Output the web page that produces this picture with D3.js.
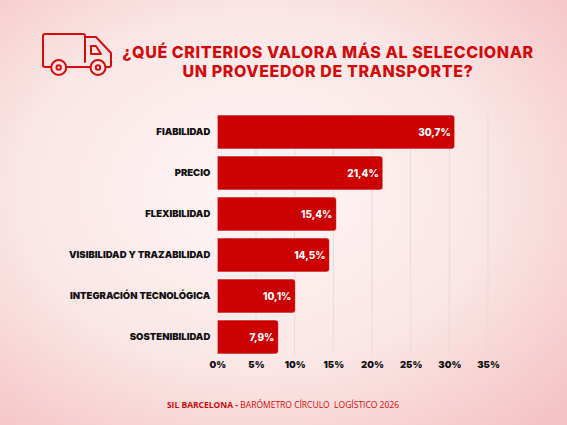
<!DOCTYPE html>
<html>
<head>
<meta charset="utf-8">
<script src="https://cdn.jsdelivr.net/npm/d3@7"></script>
<style>
  html, body { margin: 0; padding: 0; }
  body { width: 567px; height: 425px; overflow: hidden; }
  svg { display: block; }
</style>
</head>
<body>
<div id="chart"></div>
<script>
// Data
var criterios = ["FIABILIDAD", "PRECIO", "FLEXIBILIDAD", "VISIBILIDAD Y TRAZABILIDAD", "INTEGRACIÓN TECNOLÓGICA", "SOSTENIBILIDAD"];
var porcentajes = [30.7, 21.4, 15.4, 14.5, 10.1, 7.9];
var ticks = [0, 5, 10, 15, 20, 25, 30, 35];
var tituloLineas = ["¿QUÉ CRITERIOS VALORA MÁS AL SELECCIONAR", "UN PROVEEDOR DE TRANSPORTE?"];

var svgWidth = 567;
var svgHeight = 425;

var margin = { top: 111.5, right: 79, bottom: 67.5, left: 217.3 };
var width = svgWidth - margin.left - margin.right;
var height = svgHeight - margin.top - margin.bottom;

var red = "#cc0000";
var esLocale = d3.formatLocale({ decimal: ",", thousands: ".", grouping: [3], currency: ["", "€"] });
var fmt = esLocale.format(".1f");

var svg = d3.select("#chart")
  .append("svg")
  .attr("width", svgWidth)
  .attr("height", svgHeight);

// background
var defs = svg.append("defs");
var grad = defs.append("radialGradient")
  .attr("id", "bg")
  .attr("cx", "45%").attr("cy", "45%").attr("r", "75%");
grad.append("stop").attr("offset", "0%").attr("stop-color", "#fdf6f6");
grad.append("stop").attr("offset", "55%").attr("stop-color", "#fbe6e6");
grad.append("stop").attr("offset", "100%").attr("stop-color", "#f4c3c3");

svg.append("rect")
  .attr("width", svgWidth)
  .attr("height", svgHeight)
  .attr("fill", "url(#bg)");

// truck icon
var truck = svg.append("g")
  .attr("fill", "none")
  .attr("stroke", "#d40d0d")
  .attr("stroke-width", 2)
  .attr("stroke-linejoin", "round")
  .attr("stroke-linecap", "round");

truck.append("path")
  .attr("d", "M51,67 H45 Q43,67 43,65 V36 Q43,34 45,34 H83 Q85,34 85,36 V62");
truck.append("path")
  .attr("d", "M66.5,67 H90.5");
truck.append("path")
  .attr("d", "M85,37 H96 L111,53 V65 Q111,67 109,67 H105.5");
truck.append("path")
  .attr("d", "M91,46 H96 L101,54 H91 Z");
truck.append("circle").attr("cx", 58.7).attr("cy", 67.5).attr("r", 7.5);
truck.append("circle").attr("cx", 58.7).attr("cy", 67.5).attr("r", 2.2);
truck.append("circle").attr("cx", 98).attr("cy", 67.5).attr("r", 7.5);
truck.append("circle").attr("cx", 98).attr("cy", 67.5).attr("r", 2.2);

// title
svg.append("g")
  .selectAll("text")
  .data(tituloLineas)
  .enter()
  .append("text")
  .attr("x", 328)
  .attr("y", (d, i) => 57.8 + i * 19.6)
  .attr("text-anchor", "middle")
  .attr("font-family", "Inter, 'Open Sans', sans-serif")
  .attr("font-weight", 800)
  .attr("font-size", "16px")
  .attr("letter-spacing", "0.6px")
  .attr("fill", "#d10a0a")
  .text(d => d);

var chartGroup = svg.append("g")
  .attr("transform", `translate(${margin.left}, ${margin.top})`);

var xScale = d3.scaleLinear()
  .domain([0, 35])
  .range([0, width]);

var yScale = d3.scaleBand()
  .domain(criterios)
  .range([0, height])
  .paddingInner(0.17)
  .paddingOuter(0.085);

// gridlines
chartGroup.append("g")
  .selectAll("line")
  .data(ticks.slice(1))
  .enter()
  .append("line")
  .attr("x1", d => xScale(d))
  .attr("x2", d => xScale(d))
  .attr("y1", yScale(criterios[0]))
  .attr("y2", yScale(criterios[criterios.length - 1]) + yScale.bandwidth())
  .attr("stroke", "#ead9d9")
  .attr("stroke-width", 1);

// bars with rounded right end
var r = 3;
chartGroup.append("g")
  .selectAll("path")
  .data(porcentajes)
  .enter()
  .append("path")
  .attr("d", (d, i) => {
    var y0 = yScale(criterios[i]);
    var h = yScale.bandwidth();
    var w = xScale(d);
    return `M0,${y0} H${w - r} Q${w},${y0} ${w},${y0 + r} V${y0 + h - r} Q${w},${y0 + h} ${w - r},${y0 + h} H0 Z`;
  })
  .attr("fill", red)
  .attr("stroke", "#ffffff")
  .attr("stroke-opacity", 0.7)
  .attr("stroke-width", 0.8);

// value labels
chartGroup.append("g")
  .selectAll("text")
  .data(porcentajes)
  .enter()
  .append("text")
  .attr("x", d => xScale(d) - 4)
  .attr("y", (d, i) => yScale(criterios[i]) + yScale.bandwidth() / 2)
  .attr("dy", "0.35em")
  .attr("text-anchor", "end")
  .attr("font-family", "Inter, 'Open Sans', sans-serif")
  .attr("font-weight", 800)
  .attr("font-size", "10px")
  .attr("fill", "#ffffff")
  .text(d => fmt(d) + "%");

// category labels
var leftAxis = d3.axisLeft(yScale).tickSize(0).tickPadding(7);
var yAxisG = chartGroup.append("g").call(leftAxis);
yAxisG.select(".domain").remove();
yAxisG.selectAll("text")
  .attr("font-family", "Inter, 'Open Sans', sans-serif")
  .attr("font-weight", 900)
  .attr("font-size", "9.5px")
  .attr("fill", "#111111");

// x axis
var bottomAxis = d3.axisBottom(xScale)
  .tickValues(ticks)
  .tickSize(0)
  .tickPadding(4)
  .tickFormat(d => d + "%");
var xAxisG = chartGroup.append("g")
  .attr("transform", `translate(0, ${height})`)
  .call(bottomAxis);
xAxisG.select(".domain").remove();
xAxisG.selectAll("text")
  .attr("font-family", "Inter, 'Open Sans', sans-serif")
  .attr("font-weight", 900)
  .attr("font-size", "9.5px")
  .attr("fill", "#111111");

// footer
var footer = svg.append("text")
  .attr("x", 283)
  .attr("y", 408)
  .attr("text-anchor", "middle")
  .attr("font-family", "'Open Sans', sans-serif")
  .attr("font-size", "8.5px")
  .attr("fill", "#d10a0a");
footer.append("tspan").attr("font-weight", 700).text("SIL BARCELONA - ");
footer.append("tspan").attr("font-weight", 400).attr("xml:space", "preserve").text("BARÓMETRO CÍRCULO  LOGÍSTICO 2026");
</script>
</body>
</html>
